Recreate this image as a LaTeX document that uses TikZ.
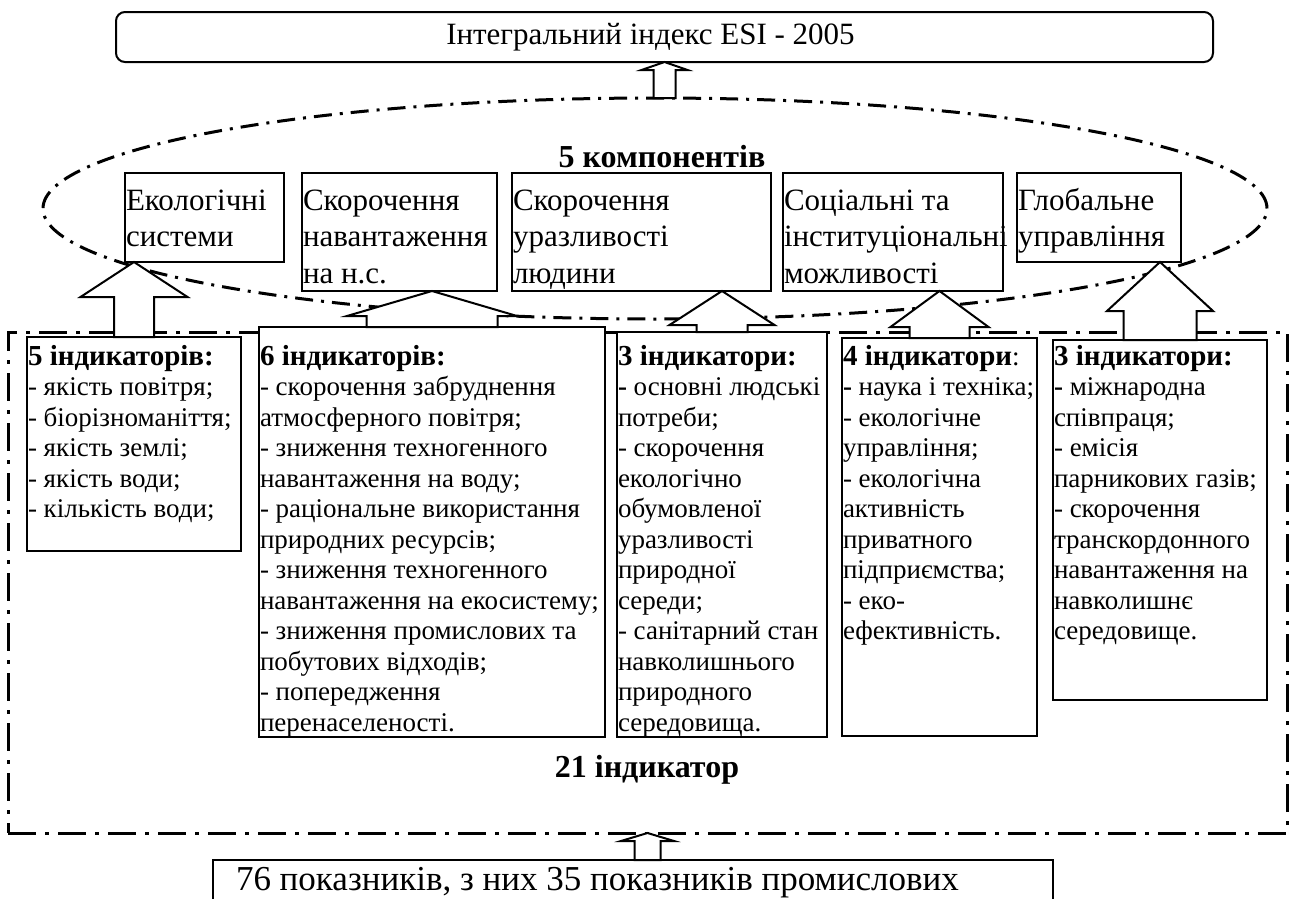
\documentclass[tikz,border=0pt]{standalone}
\usepackage{fontspec}
\setmainfont{Liberation Serif}
\usetikzlibrary{shapes.geometric,calc}
\newcommand{\pb}[4]{\parbox[t][#2pt][t]{\dimexpr#1pt-2pt\relax}{\rule{0pt}{#3pt}#4}}
\newcommand{\hd}[1]{{\fontsize{29}{30}\selectfont\bfseries #1}}
\newcommand{\uparr}[5]{\filldraw[arr] (#1) -- ++(-#3,#5) -- ++(#3-#4,0) coordinate (l) -- (l |- #2) -- ++(2*#4,0) coordinate (r) -- (r |- l) -- ++(#3-#4,0) -- cycle;}
\begin{document}
\begin{tikzpicture}[x=1pt,y=-1pt,
  dd/.style={line width=3pt,dash pattern=on 28pt off 9pt on 4pt off 9pt},
  de/.style={line width=3pt,dash pattern=on 18pt off 8pt on 3pt off 8pt},
  bx/.style={draw,fill=white,line width=2pt,anchor=north west,inner xsep=1pt,inner ysep=0pt,outer sep=0pt},
  cmp/.style={bx,font=\fontsize{31}{36.7}\selectfont},
  ind/.style={bx,font=\fontsize{27}{30.5}\selectfont},
  arr/.style={draw,fill=white,line width=2pt}]
\useasboundingbox (0,0) rectangle (1294,898);
\node[draw,ellipse,de,minimum width=1224pt,minimum height=221pt,inner sep=0pt,outer sep=0pt] (E) at (655,208.5) {};
\node[draw,line width=2pt,rounded corners=9pt,minimum width=1097pt,minimum height=50pt,outer sep=0pt,font=\fontsize{31}{36}\selectfont] (T) at (664.5,37) {\hspace*{-28pt}Інтегральний індекс ESI - 2005};
\node[font=\fontsize{32}{36}\selectfont\bfseries] (L1) at (662,157) {5 компонентів};
\node[draw,dd,minimum width=1279pt,minimum height=501pt,inner sep=0pt,outer sep=0pt] (F) at (647.5,582.5) {};
\node[font=\fontsize{32}{36}\selectfont\bfseries] (L2) at (647,770) {21 індикатор};
\node[cmp] (K1) at (125,173) {\pb{159}{89}{37}{Екологічні\\системи}};
\node[cmp] (K2) at (302,173) {\pb{195}{118}{37}{Скорочення\\навантаження\\на н.с.}};
\node[cmp] (K3) at (512,173) {\pb{259}{118}{37}{Скорочення\\уразливості\\людини}};
\node[cmp] (K4) at (783,173) {\pb{220}{118}{37}{Соціальні та\\інституціональні\\можливості}};
\node[cmp] (K5) at (1017,173) {\pb{164}{89}{37}{Глобальне\\управління}};
\node[ind] (I1) at (27,337) {\pb{214}{214}{28}{\hd{5 індикаторів:}\\- якість повітря;\\- біорізноманіття;\\- якість землі;\\- якість води;\\- кількість води;}};
\node[ind] (I2) at (259,327) {\pb{346}{410}{38}{\hd{6 індикаторів:}\\- скорочення забруднення\\атмосферного повітря;\\- зниження техногенного\\навантаження на воду;\\- раціональне використання\\природних ресурсів;\\- зниження техногенного\\навантаження на екосистему;\\- зниження промислових та\\побутових відходів;\\- попередження\\перенаселеності.}};
\node[ind] (I3) at (617,332) {\pb{210}{405}{33}{\hd{3 індикатори:}\\\textbf{-} основні людські\\потреби;\\- скорочення\\екологічно\\обумовленої\\уразливості\\природної\\середи;\\- санітарний стан\\навколишнього\\природного\\середовища.}};
\node[ind] (I4) at (842,338) {\pb{195}{398}{27}{\hd{4 індикатори}:\\\textbf{-} наука і техніка;\\- екологічне\\управління;\\- екологічна\\активність\\приватного\\підприємства;\\- еко-\\ефективність.}};
\node[ind] (I5) at (1053,340) {\pb{214}{360}{25}{\hd{3 індикатори:}\\\textbf{-} міжнародна\\співпраця;\\- емісія\\парникових газів;\\- скорочення\\транскордонного\\навантаження на\\навколишнє\\середовище.}};
\node[bx,font=\fontsize{35}{40}\selectfont] (P) at (213,860) {\pb{840}{80}{30}{\hspace*{22pt}76 показників, з них 35 показників промислових}};
\uparr{T.south}{E.north}{23}{11}{8}
\uparr{K1.south -| I1.north}{I1.north}{53.5}{20}{35}
\uparr{K2.south -| I2.north}{I2.north}{85}{65.5}{25}
\uparr{K3.south -| I3.north}{I3.north}{52.5}{25.5}{34}
\uparr{K4.south -| I4.north}{I4.north}{49}{30}{36}
\uparr{K5.south -| I5.north}{I5.north}{53}{36.5}{49}
\uparr{F.south}{P.north}{26.5}{13}{8}
\end{tikzpicture}
\end{document}
